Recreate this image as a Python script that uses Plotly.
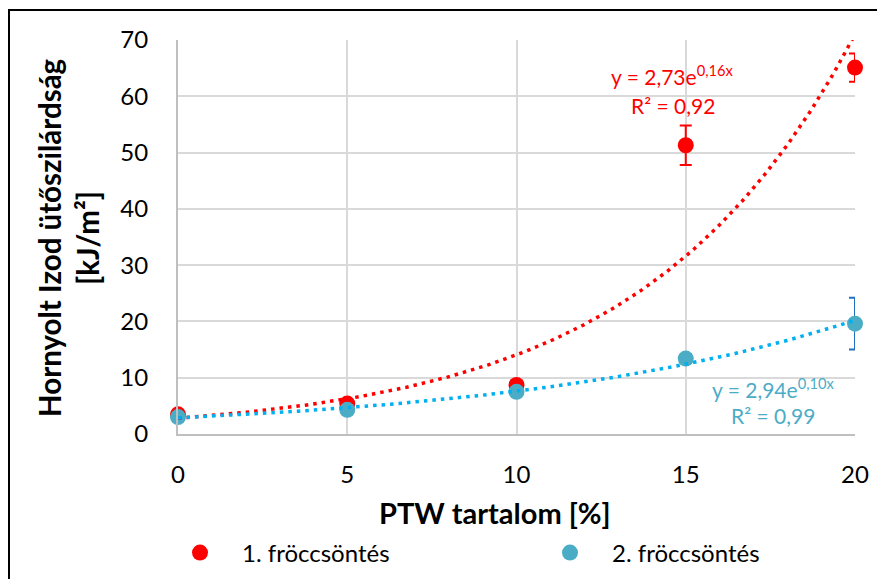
import numpy as np
import plotly.graph_objects as go

# ---- data ----
ptw = [0, 5, 10, 15, 20]
s1_name = "1. fröccsöntés"
s1_vals = [3.5, 5.4, 8.7, 51.3, 65.1]
s1_err = [0.4, 0.5, 0.6, 3.5, 2.5]
s2_name = "2. fröccsöntés"
s2_vals = [3.0, 4.3, 7.5, 13.4, 19.6]
s2_err = [0.3, 0.4, 0.5, 0.8, 4.6]
eq1 = ["y = 2,73e<sup>0,16x</sup>", "R² = 0,92"]
eq2 = ["y = 2,94e<sup>0,10x</sup>", "R² = 0,99"]
x_ticks = [0, 5, 10, 15, 20]
y_ticks = [0, 10, 20, 30, 40, 50, 60, 70]

FONT = "Lato"
RED = "#FF0000"
BLUE = "#4BACC6"
BLUE_TREND = "#00B0F0"
BLUE_ERR = "#2270C0"

# exponential trendlines (log-linear least squares, as Excel does)
xt = np.linspace(0, 20, 300)
def expfit(x, y):
    b, lna = np.polyfit(np.array(x, float), np.log(np.array(y, float)), 1)
    return np.exp(lna) * np.exp(b * xt)

fig = go.Figure()
fig.add_trace(go.Scatter(x=ptw, y=s1_vals, mode="markers", name=s1_name,
                         legend="legend", cliponaxis=False,
                         marker=dict(color=RED, size=16),
                         error_y=dict(type="data", array=s1_err, color=RED,
                                      thickness=2, width=6)))
fig.add_trace(go.Scatter(x=ptw, y=s2_vals, mode="markers", name=s2_name,
                         legend="legend2", cliponaxis=False,
                         marker=dict(color=BLUE, size=16),
                         error_y=dict(type="data", array=s2_err, color=BLUE_ERR,
                                      thickness=2, width=6)))
fig.add_trace(go.Scatter(x=xt, y=expfit(ptw, s1_vals), mode="lines",
                         line=dict(color=RED, width=3.5, dash="3.5px,5px"),
                         showlegend=False, hoverinfo="skip"))
fig.add_trace(go.Scatter(x=xt, y=expfit(ptw, s2_vals), mode="lines",
                         line=dict(color=BLUE_TREND, width=3.5, dash="3.5px,5px"),
                         showlegend=False, hoverinfo="skip"))

# page has an 8px body margin -> figure coords = screen coords - 8
OFF = 8
W, H = 877, 571
L, T = 178 - OFF, 40 - OFF
R = W - (855 - OFF)
B = H - (434 - OFF)
pw, ph = W - L - R, H - T - B
def px2x(px):  # screen px -> paper
    return (px - OFF - L) / pw
def px2y(py):
    return (H - B - (py - OFF)) / ph

leg_common = dict(orientation="h", yanchor="middle", xanchor="left",
                  font=dict(size=24, family=FONT), bgcolor="rgba(0,0,0,0)",
                  itemwidth=74, borderwidth=0)

fig.update_layout(
    width=W, height=H,
    margin=dict(l=L, r=R, t=T, b=B, autoexpand=False),
    paper_bgcolor="white", plot_bgcolor="white",
    font=dict(family=FONT, size=24, color="#000000"),
    showlegend=True,
    legend=dict(x=px2x(158), y=px2y(553), **leg_common),
    legend2=dict(x=px2x(528), y=px2y(553), **leg_common),
    xaxis=dict(range=[0, 20], tickvals=x_ticks, showgrid=True,
               gridcolor="#D9D9D9", gridwidth=1.5, zeroline=False,
               showline=True, linecolor="#BFBFBF", linewidth=2,
               ticks="", ticklabelstandoff=18, tickfont=dict(size=24)),
    yaxis=dict(range=[0, 70], tickvals=y_ticks, showgrid=True,
               gridcolor="#D9D9D9", gridwidth=1.5, zeroline=False,
               showline=True, linecolor="#BFBFBF", linewidth=2,
               ticks="", ticklabelstandoff=23, tickfont=dict(size=24)),
    annotations=[
        dict(text="<b>PTW tartalom [%]</b>", xref="paper", yref="paper",
             x=px2x(495), y=px2y(512), showarrow=False,
             font=dict(size=29, family=FONT, color="#000"),
             xanchor="center", yanchor="middle"),
        dict(text="<b>Hornyolt Izod ütőszilárdság<br>[kJ/m²]</b>",
             xref="paper", yref="paper", x=px2x(68), y=px2y(237),
             showarrow=False, textangle=-90,
             font=dict(size=29.5, family=FONT, color="#000"),
             xanchor="center", yanchor="middle"),
        dict(text=eq1[0], x=14.62, y=63.8, showarrow=False,
             font=dict(size=21, color=RED)),
        dict(text=eq1[1], x=14.62, y=58.4, showarrow=False,
             font=dict(size=21, color=RED)),
        dict(text=eq2[0], x=17.58, y=8.2, showarrow=False,
             font=dict(size=21, color=BLUE)),
        dict(text=eq2[1], x=17.58, y=3.2, showarrow=False,
             font=dict(size=21, color=BLUE)),
    ],
    shapes=[dict(type="rect", xref="paper", yref="paper",
                 x0=px2x(9), x1=px2x(900), y0=px2y(600), y1=px2y(10),
                 line=dict(color="#000000", width=2), layer="above")],
)

fig.write_html("out.html")
